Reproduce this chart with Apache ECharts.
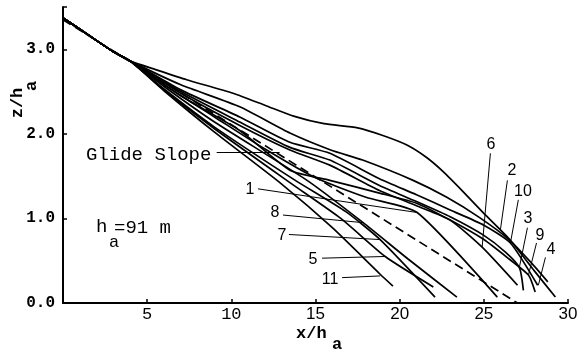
<!DOCTYPE html>
<html><head><meta charset="utf-8">
<script src="https://cdn.jsdelivr.net/npm/echarts@6/dist/echarts.min.js"></script>
<style>html,body{margin:0;padding:0;background:#fff}#c{width:585px;height:351px}</style>
</head><body><div id="c"></div>
<script>
// common approach segment
const start = [[0,3.37],[1.5,3.17],[3,2.97],[4,2.86]];
const curve11 = [[6,2.51],[9,2.02],[12.9,1.42],[16,0.89],[18.84,0.34],[19.6,0.2]];
const curve7  = [[6,2.53],[9,2.08],[13.8,1.45],[16.8,1.08],[18.84,0.75],[22.1,0.07]];
const curve5  = [[6,2.52],[9,2.06],[13.5,1.42],[16.5,1.0],[19.14,0.55],[22.0,0.19]];
const curve8  = [[6,2.56],[9,2.14],[14.5,1.45],[17.83,0.95],[20.5,0.52],[23.4,0.07]];
const curve1  = [[6,2.58],[9,2.2],[12,1.82],[15,1.48],[18,1.25],[21.04,1.07],[25.8,0.07]];
const curve4  = [[5.5,2.76],[7.35,2.64],[10.1,2.48],[12.1,2.33],[13.7,2.21],[15.5,2.12],[17.5,2.07],[19,1.98],[20.4,1.87],[21.6,1.72],[22.6,1.55],[23.75,1.32],[25,1.06],[26.5,0.76],[28,0.38],[29.25,0.07]];
const curve2  = [[7,2.58],[10.5,2.32],[13.48,2.01],[15.9,1.81],[17.8,1.69],[20.8,1.45],[22.8,1.25],[24.75,1.01],[26.5,0.75],[27.8,0.48],[28.8,0.25]];
const curve10 = [[7,2.52],[10.5,2.20],[13.48,1.90],[15.85,1.77],[18.8,1.47],[21,1.28],[23,1.1],[25,0.92],[26.58,0.71],[28.2,0.21]];
const curve6  = [[7,2.48],[10.5,2.10],[13.48,1.81],[15.85,1.63],[18.8,1.33],[21,1.15],[23,0.98],[24.9,0.66],[27.0,0.21]];
const curve3  = [[7,2.5],[10.5,2.14],[13.48,1.84],[15.85,1.69],[18.8,1.39],[21,1.2],[23,1.02],[25,0.8],[26.3,0.6],[27.11,0.42],[27.35,0.15]];
const curve9  = [[7,2.45],[10.5,2.04],[13.48,1.57],[15.85,1.45],[18.8,1.3],[21,1.18],[23,0.98],[25,0.75],[26.5,0.52],[27.65,0.33],[28.05,0.13]];
const glideSlope = [[0,3.35],[27,0]];
const xTickValues = [5,10,15,20,25,30];
const yTickValues = [0,1,2,3];

const curves = [curve11,curve7,curve5,curve8,curve1,curve4,curve2,curve10,curve6,curve3,curve9];

const chart = echarts.init(document.getElementById('c'), null, {renderer:'canvas'});
const mono = 'Liberation Mono';
const sans = 'Liberation Sans';

const leaders = [
  [[25.39,1.77],[24.9,0.66]],
  [[26.4,1.45],[25.98,0.86]],
  [[27.05,1.22],[26.58,0.71]],
  [[27.59,0.89],[27.11,0.42]],
  [[28.13,0.71],[27.65,0.33]],
  [[28.66,0.54],[28.24,0.21]],
  [[11.58,1.35],[21.04,1.07]],
  [[13.07,1.04],[17.83,0.95]],
  [[13.42,0.81],[18.84,0.75]],
  [[15.39,0.53],[19.14,0.55]],
  [[16.58,0.30],[18.84,0.32]],
  [[9.13,1.78],[12.87,1.78]]
];

const series = curves.map(c => ({
  type:'line', data: start.concat(c), smooth:0.2, symbol:'none',
  lineStyle:{color:'#000', width:1.7}, silent:true
}));
series.push({
  type:'line', data: glideSlope, symbol:'none',
  lineStyle:{color:'#000', width:1.7, type:[9,5]}, silent:true,
  markLine:{
    silent:true, symbol:'none', animation:false,
    label:{show:false},
    lineStyle:{color:'#000', width:1, type:'solid'},
    data: leaders.map(l => [{coord:l[0]},{coord:l[1]}])
  }
});

function txt(x,y,s,opt){
  return Object.assign({type:'text', x:x, y:y, style:{text:s, fill:'#000', font:'16px '+sans, textAlign:'center', textVerticalAlign:'middle'}}, opt||{});
}
const numLabels = [
  ['6',491,145],['2',512,171],['10',523,192],['3',528,219],['9',540,236],['4',551,250],
  ['1',250,190],['8',275,213],['7',282,236],['5',313,260],['11',330,280]
];
const graphics = numLabels.map(l => txt(l[1],l[2],l[0]));
graphics.push({type:'text', x:86, y:155, style:{text:'Glide Slope', fill:'#000', font:'19px '+mono, textAlign:'left', textVerticalAlign:'middle'}});
graphics.push({type:'text', x:96, y:227, style:{text:'h', fill:'#000', font:'19px '+mono, textAlign:'left', textVerticalAlign:'middle'}});
graphics.push({type:'text', x:109, y:242, style:{text:'a', fill:'#000', font:'17px '+mono, textAlign:'left', textVerticalAlign:'middle'}});
graphics.push({type:'text', x:114, y:228, style:{text:'=91 m', fill:'#000', font:'19px '+mono, textAlign:'left', textVerticalAlign:'middle'}});
// axis names
graphics.push({type:'text', x:296, y:334, style:{text:'x/h', fill:'#000', font:'bold 17px '+mono, textAlign:'left', textVerticalAlign:'middle'}});
graphics.push({type:'text', x:332, y:345, style:{text:'a', fill:'#000', font:'bold 17px '+mono, textAlign:'left', textVerticalAlign:'middle'}});
graphics.push({type:'text', x:18, y:103, rotation:Math.PI/2, style:{text:'z/h', fill:'#000', font:'bold 17px '+mono, textAlign:'center', textVerticalAlign:'middle'}});
graphics.push({type:'text', x:32, y:86, rotation:Math.PI/2, style:{text:'a', fill:'#000', font:'bold 17px '+mono, textAlign:'center', textVerticalAlign:'middle'}});

chart.setOption({
  animation:false,
  backgroundColor:'#fff',
  grid:{left:63, right:17, top:7, bottom:48, containLabel:false},
  xAxis:{
    type:'value', min:0, max:30, interval:5,
    axisLine:{show:true, lineStyle:{color:'#000', width:2}},
    axisTick:{show:true, inside:true, length:4, lineStyle:{color:'#000', width:1.5}},
    splitLine:{show:false},
    axisLabel:{
      margin:3, color:'#000',
      formatter: v => xTickValues.indexOf(v) < 0 ? '' : (v <= 10 ? '{m|'+v+'}' : '{s|'+v+'}'),
      rich:{ m:{fontFamily:mono, fontSize:17, color:'#000'}, s:{fontFamily:sans, fontSize:17, color:'#000'} }
    }
  },
  yAxis:{
    type:'value', min:0, max:3.5, interval:1,
    axisLine:{show:true, lineStyle:{color:'#000', width:2}},
    axisTick:{show:true, inside:true, length:4, lineStyle:{color:'#000', width:1.5}},
    splitLine:{show:false},
    axisLabel:{
      margin:8, color:'#000', fontFamily:mono, fontSize:16, fontWeight:'bold',
      formatter: v => yTickValues.indexOf(v) < 0 ? '' : v.toFixed(1)
    }
  },
  graphic: graphics,
  series: series
});
</script></body></html>
